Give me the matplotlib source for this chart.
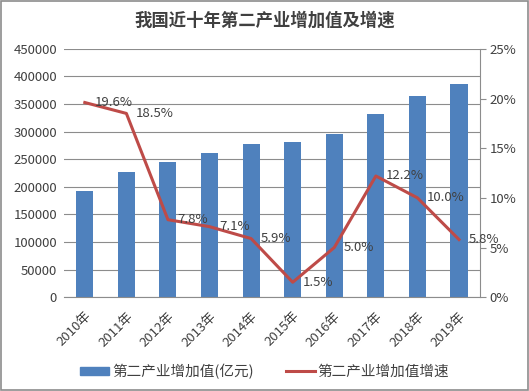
import matplotlib
matplotlib.use('Agg')
import matplotlib.pyplot as plt
from matplotlib.ticker import FuncFormatter
from matplotlib.patches import Rectangle, Patch
from matplotlib.lines import Line2D

plt.rcParams['font.family'] = ['Noto Sans CJK SC', 'DejaVu Sans']

# 数据
years = ['2010年', '2011年', '2012年', '2013年', '2014年', '2015年', '2016年', '2017年', '2018年', '2019年']
value_added = [191629, 227038, 244643, 261956, 277572, 282040, 296548, 332743, 364835, 386165]
growth = [19.6, 18.5, 7.8, 7.1, 5.9, 1.5, 5.0, 12.2, 10.0, 5.8]

BAR_COLOR = '#4f81bd'
LINE_COLOR = '#be4b48'
TEXT_COLOR = '#404040'

fig = plt.figure(figsize=(5.29, 3.91), dpi=100)
ax = fig.add_axes([0.121, 0.240, 0.786, 0.635])
x = list(range(len(years)))

ax.bar(x, value_added, width=0.41, color=BAR_COLOR, zorder=2)
ax.set_xlim(-0.5, len(years) - 0.5)
ax.set_ylim(0, 450000)
ax.set_yticks(range(0, 450001, 50000))
ax.grid(axis='y', color='#8c8c8c', linewidth=0.8, zorder=0)
ax.set_axisbelow(True)
for s in ['left', 'top', 'right']:
    ax.spines[s].set_visible(False)
ax.spines['bottom'].set_color('#8c8c8c')
ax.tick_params(axis='y', length=0, labelsize=9.5, labelcolor=TEXT_COLOR, pad=5)
ax.tick_params(axis='x', length=0, labelsize=9.5, labelcolor=TEXT_COLOR, pad=9)
ax.set_xticks(x)
ax.set_xticklabels(years, rotation=45, ha='right', rotation_mode='anchor')

ax2 = ax.twinx()
ax2.plot(x, growth, color=LINE_COLOR, linewidth=2.2, zorder=3)
ax2.set_ylim(0, 25)
ax2.set_yticks(range(0, 26, 5))
ax2.yaxis.set_major_formatter(FuncFormatter(lambda v, p: f'{int(v)}%'))
ax2.tick_params(axis='y', length=4, color='#8c8c8c', labelsize=9.5, labelcolor=TEXT_COLOR, pad=3)
for s in ['left', 'top', 'bottom']:
    ax2.spines[s].set_visible(False)
ax2.spines['right'].set_color('#8c8c8c')

for xi, g in zip(x, growth):
    ax2.annotate(f'{g:.1f}%', (xi, g), xytext=(7, 0), textcoords='offset points',
                 va='center', ha='left', fontsize=9.5, color=TEXT_COLOR)

fig.text(0.5, 0.948, '我国近十年第二产业增加值及增速', ha='center', va='center',
         fontsize=12.5, fontweight='bold', color=TEXT_COLOR)

# 图例
handles = [Patch(color=BAR_COLOR, label='第二产业增加值(亿元)'),
           Line2D([0], [0], color=LINE_COLOR, linewidth=2.2, label='第二产业增加值增速')]
fig.legend(handles=handles, loc='center', bbox_to_anchor=(0.5, 0.05), ncol=2, frameon=False,
           fontsize=10.5, labelcolor=TEXT_COLOR, handlelength=2.0, handleheight=0.5,
           columnspacing=2.2, handletextpad=0.2)

fig.patches.append(Rectangle((0.002, 0.002), 0.996, 0.996, transform=fig.transFigure,
                             fill=False, edgecolor='#8c8c8c', linewidth=1.2))

fig.savefig('out.png', dpi=100)
